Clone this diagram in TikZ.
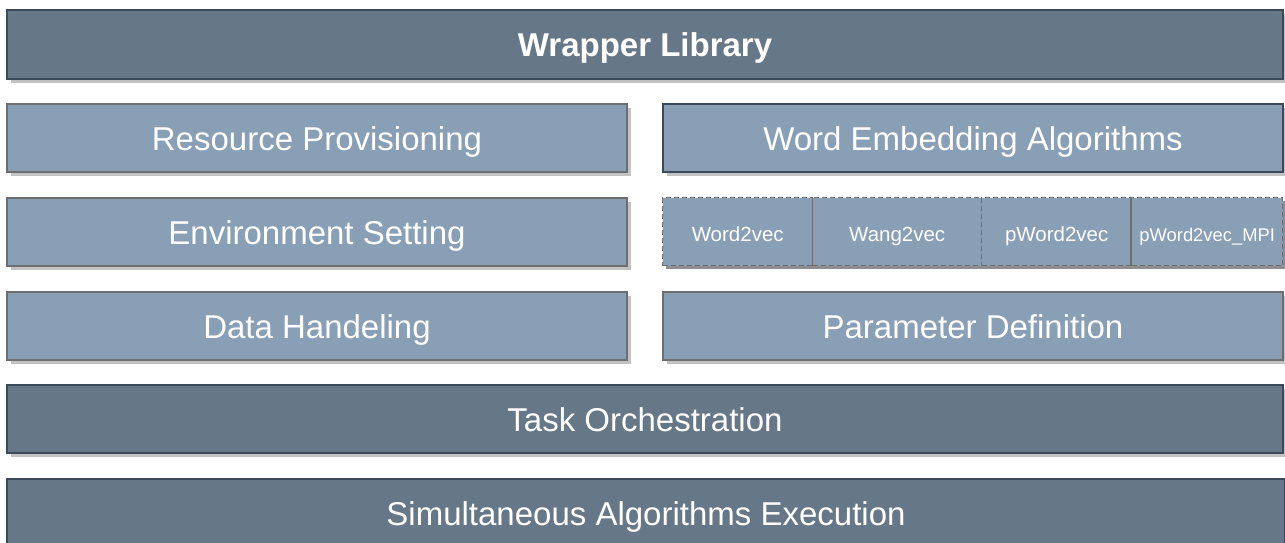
\documentclass[tikz,border=0pt]{standalone}
\usepackage{fontspec}
\setmainfont{Liberation Sans}
\usetikzlibrary{shadows}
\definecolor{darkfill}{HTML}{667788}
\definecolor{darkline}{HTML}{3A4A5C}
\definecolor{lightfill}{HTML}{889FB6}
\definecolor{greyline}{HTML}{6E6E6E}
\definecolor{shadowgrey}{HTML}{C2C2C2}
\definecolor{subshadow}{HTML}{8E8E8E}
\tikzset{
  layer/.style={rectangle, anchor=north west, inner sep=0pt, line width=2pt,
    text=white, font=\fontsize{33}{40}\selectfont,
    text height=24.4pt, text depth=0pt,
    general shadow={fill=shadowgrey, shadow xshift=4pt, shadow yshift=-4pt}},
  darkbox/.style={layer, fill=darkfill, draw=darkline},
  lightbox/.style={layer, fill=lightfill, draw=greyline},
  lightdark/.style={layer, fill=lightfill, draw=darkline},
  algbox/.style={rectangle, anchor=north west, inner sep=0pt, fill=lightfill,
    draw=greyline, dashed, dash pattern=on 5pt off 3pt, line width=1.4pt,
    text=white, font=\fontsize{20.5}{24}\selectfont, minimum height=68pt,
    text height=20pt, text depth=-4.7pt,
    general shadow={fill=subshadow, shadow xshift=3pt, shadow yshift=-3pt}},
}
\begin{document}
\begin{tikzpicture}[x=1pt, y=-1pt]
\useasboundingbox (0,0) rectangle (1285,543);
\clip (0,0) rectangle (1285,543);

% top banner
\node[darkbox, minimum width=1276pt, minimum height=69pt,
      font=\fontsize{33}{40}\selectfont\bfseries] (lib) at (6,9) {Wrapper Library};

% left column
\node[lightbox, minimum width=620pt, minimum height=68pt] (res) at (6,103) {Resource Provisioning};
\node[lightbox, minimum width=620pt, minimum height=68pt] (env) at (6,197) {Environment Setting};
\node[lightbox, minimum width=620pt, minimum height=68pt] (data) at (6,291) {Data Handeling};

% right column
\node[lightdark, minimum width=620pt, minimum height=68pt] (wea) at (662,103) {Word Embedding Algorithms};
\node[algbox, minimum width=150pt] (w2v) at (662,197) {Word2vec};
\node[algbox, minimum width=169pt] (wang) at (812,197) {Wang2vec};
\node[algbox, minimum width=150pt] (pw2v) at (981,197) {pWord2vec};
\node[algbox, minimum width=151pt, font=\fontsize{18.4}{22}\selectfont,
      text height=19pt, text depth=-4.2pt] (mpi) at (1131,197) {pWord2vec\_MPI};
\draw[greyline, line width=1.2pt] (mpi.north west) -- (mpi.south west);
\node[lightbox, minimum width=620pt, minimum height=68pt] (par) at (662,291) {Parameter Definition};

% bottom layers
\node[darkbox, minimum width=1276pt, minimum height=68pt] (task) at (6,384) {Task Orchestration};
\node[darkbox, minimum width=1278pt, minimum height=69pt] (exec) at (6,478) {Simultaneous Algorithms Execution};
\end{tikzpicture}
\end{document}
